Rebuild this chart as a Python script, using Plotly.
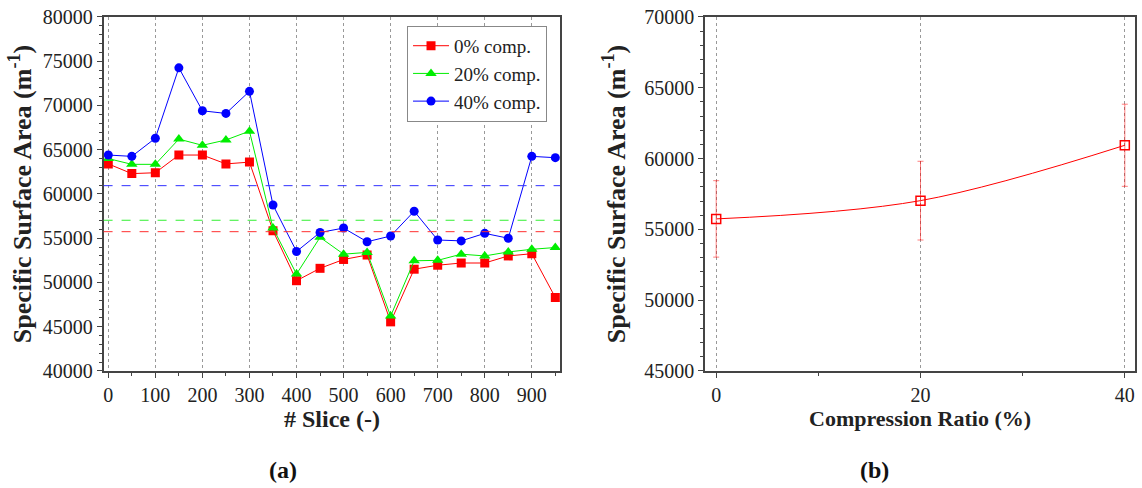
import plotly.graph_objects as go

# ---- data ----
slices = [0, 50, 100, 150, 200, 250, 300, 350, 400, 450, 500, 550, 600, 650, 700, 750, 800, 850, 900, 950]
comp0 = [63400, 62300, 62400, 64400, 64400, 63400, 63600, 55850, 50200, 51600, 52600, 53100, 45550, 51500, 51950, 52200, 52200, 53000, 53250, 48300]
comp20 = [64000, 63350, 63350, 66200, 65500, 66100, 67100, 56150, 50950, 55100, 53200, 53400, 46200, 52450, 52500, 53200, 53000, 53450, 53750, 53950]
comp40 = [64400, 64250, 66300, 74250, 69400, 69100, 71600, 58750, 53500, 55650, 56150, 54600, 55250, 58050, 54800, 54700, 55550, 55000, 64250, 64100]
series_names = ["0% comp.", "20% comp.", "40% comp."]
series_colors = ["#ff0000", "#00ee00", "#0000ff"]
series_symbols = ["square", "triangle-up", "circle"]

ratio = [0, 20, 40]
ssa_mean = [55740, 57030, 60940]
ssa_err = [2700, 2780, 2900]

FONT = "Liberation Serif"

fig = go.Figure()

for name, vals, col, sym in zip(series_names, [comp0, comp20, comp40], series_colors, series_symbols):
    fig.add_trace(go.Scatter(
        x=slices, y=vals, name=name, mode="lines+markers",
        line=dict(color=col, width=1),
        marker=dict(symbol=sym, size=9 if sym != "triangle-up" else 10, color=col, line=dict(width=0)),
        xaxis="x", yaxis="y",
    ))

# mean dashed lines
dash_colors = ["#ff3030", "#30f030", "#3030ff"]
for m, col in zip(ssa_mean, dash_colors):
    fig.add_shape(type="line", xref="x domain", yref="y", x0=0, x1=1, y0=m, y1=m,
                  line=dict(color=col, width=1, dash="dash"))

# right panel
fig.add_trace(go.Scatter(
    x=ratio, y=ssa_mean, mode="lines+markers", showlegend=False,
    line=dict(color="#ff0000", width=1, shape="spline", smoothing=1.0),
    marker=dict(symbol="square-open", size=9, color="#ff0000", line=dict(width=1.5)),
    error_y=dict(type="data", array=ssa_err, color="rgba(255,0,0,0.5)", thickness=1, width=3),
    xaxis="x2", yaxis="y2",
))

axis_common = dict(
    showline=True, linecolor="#444", linewidth=1.5, mirror=True,
    ticks="outside", ticklen=5, tickcolor="#444", tickwidth=1.2,
    tickfont=dict(family=FONT, size=20, color="#222"),
    zeroline=False, automargin=False,
)
ytitle = "<b>Specific Surface Area (m<sup>-1</sup>)</b>"

fig.update_layout(
    width=1142, height=488,
    margin=dict(l=0, r=0, t=0, b=0),
    paper_bgcolor="white", plot_bgcolor="white",
    font=dict(family=FONT, color="#222"),
    xaxis=dict(domain=[0.0907, 0.4904], range=[-10, 960], dtick=100, tick0=0,
               showgrid=True, gridcolor="#999", griddash="dot", gridwidth=1,
               minor=dict(ticks="outside", ticklen=3, dtick=50, tick0=0, tickcolor="#444"),
               ticklabelstandoff=0,
               anchor="y", **axis_common),
    yaxis=dict(domain=[0.2398, 0.9652], range=[40000, 80000], dtick=5000, tickformat="d",
               showgrid=False,
               minor=dict(ticks="outside", ticklen=3, dtick=1000, tickcolor="#444"),
               title=dict(text=ytitle, font=dict(family=FONT, size=26), standoff=4),
               anchor="x", **axis_common),
    xaxis2=dict(domain=[0.6173, 0.9939], range=[-1.1, 41], dtick=20, tick0=0,
                showgrid=True, gridcolor="#999", griddash="dot", gridwidth=1,
                minor=dict(ticks="outside", ticklen=3, dtick=10, tickcolor="#444"),
                ticklabelstandoff=0,
                anchor="y2", **axis_common),
    yaxis2=dict(domain=[0.2398, 0.9652], range=[45000, 70000], dtick=5000, tickformat="d",
                showgrid=False,
                minor=dict(ticks="outside", ticklen=3, dtick=1000, tickcolor="#444"),
                title=dict(text=ytitle, font=dict(family=FONT, size=26), standoff=11),
                anchor="x2", **axis_common),
    legend=dict(x=0.479, y=0.947, xanchor="right", yanchor="top",
                bgcolor="white", bordercolor="#888", borderwidth=1,
                font=dict(family=FONT, size=19, color="#222"),
                itemwidth=36, tracegroupgap=0),
    annotations=[
        dict(text="<b># Slice (-)</b>", x=0.2906, y=0.141, xref="paper", yref="paper",
             xanchor="center", yanchor="middle",
             showarrow=False, font=dict(family=FONT, size=24, color="#222")),
        dict(text="<b>Compression Ratio (%)</b>", x=0.8056, y=0.143, xref="paper", yref="paper",
             xanchor="center", yanchor="middle",
             showarrow=False, font=dict(family=FONT, size=22, color="#222")),
        dict(text="<b>(a)</b>", x=0.248, y=0.037, xref="paper", yref="paper",
             xanchor="center", yanchor="middle",
             showarrow=False, font=dict(family=FONT, size=24, color="#111")),
        dict(text="<b>(b)</b>", x=0.766, y=0.037, xref="paper", yref="paper",
             xanchor="center", yanchor="middle",
             showarrow=False, font=dict(family=FONT, size=24, color="#111")),
    ],
)

fig.write_html("out.html")
